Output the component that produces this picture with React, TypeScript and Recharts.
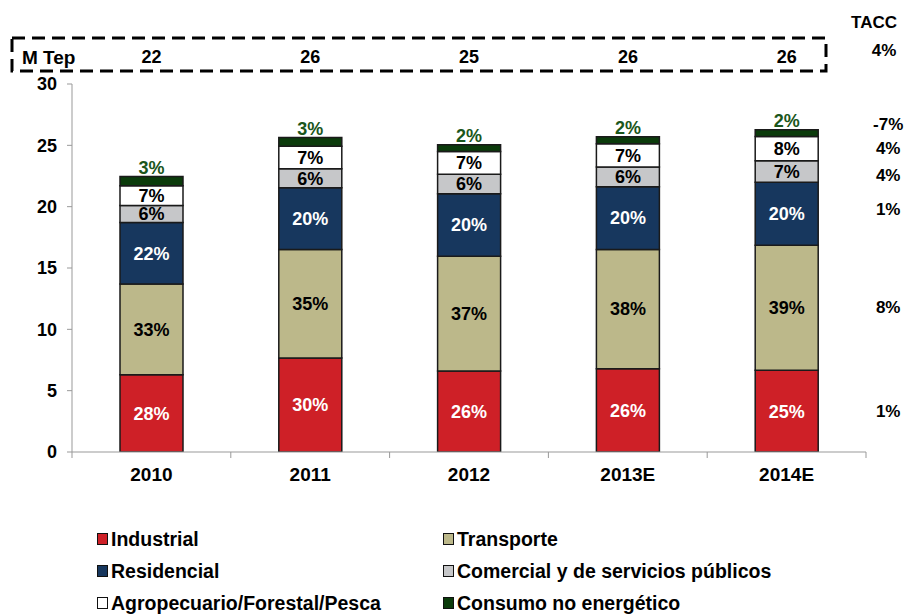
import { BarChart, Bar, XAxis, YAxis, LabelList } from 'recharts';

const categories = ['2010', '2011', '2012', '2013E', '2014E'];
const industrial = [6.3, 7.66, 6.6, 6.79, 6.66];
const transporte = [7.4, 8.85, 9.35, 9.72, 10.19];
const residencial = [5.0, 5.03, 5.1, 5.12, 5.14];
const comercial = [1.4, 1.55, 1.6, 1.6, 1.75];
const agropecuario = [1.6, 1.84, 1.85, 1.9, 1.98];
const consumo = [0.75, 0.7, 0.55, 0.57, 0.55];
const yTicks = [0, 5, 10, 15, 20, 25, 30];
const taccBySeries = ['1%', '8%', '1%', '4%', '4%', '-7%'];
const taccTotal = '4%';

const FONT = '"Liberation Sans", Arial, sans-serif';

const series = [
    { key: 'industrial', name: 'Industrial', values: industrial, fill: '#CE2027', text: '#FFFFFF', taccDy: 0 },
    { key: 'transporte', name: 'Transporte', values: transporte, fill: '#BCB88A', text: '#000000', taccDy: 0 },
    { key: 'residencial', name: 'Residencial', values: residencial, fill: '#17375E', text: '#FFFFFF', taccDy: -4 },
    { key: 'comercial', name: 'Comercial y de servicios públicos', values: comercial, fill: '#C6C7C9', text: '#000000', taccDy: 4 },
    { key: 'agropecuario', name: 'Agropecuario/Forestal/Pesca', values: agropecuario, fill: '#FFFFFF', text: '#000000', taccDy: 0 },
    { key: 'consumo', name: 'Consumo no energético', values: consumo, fill: '#0B3B0B', text: '#1B561B', taccDy: -9 },
];

// legend order: two columns, three rows
const legendOrder = ['industrial', 'transporte', 'residencial', 'comercial', 'agropecuario', 'consumo'];

const totals = categories.map((_, i) => series.reduce((s, ser) => s + ser.values[i], 0));

const data = categories.map((year, i) => {
    const row: Record<string, string | number> = { year, totalLabel: String(Math.round(totals[i])) };
    series.forEach((ser, si) => {
        row[ser.key] = ser.values[i];
        row[`${ser.key}Pct`] = `${Math.round((ser.values[i] / totals[i]) * 100)}%`;
        row[`${ser.key}Tacc`] = i === categories.length - 1 ? taccBySeries[si] : '';
    });
    return row;
});

const XTick = (props: any) => {
    const { x, y, payload, index } = props;
    const half = payload && payload.offset ? payload.offset : 79;
    return (
        <g>
            <line x1={x - half} x2={x - half} y1={y} y2={y + 6} stroke="#999" />
            {index === categories.length - 1 && (
                <line x1={x + half} x2={x + half} y1={y} y2={y + 6} stroke="#999" />
            )}
            <text x={x} y={y + 29} textAnchor="middle" fill="#000" fontSize={19} fontWeight="bold" fontFamily={FONT}>
                {payload.value}
            </text>
        </g>
    );
};

const makeTacc = (dy: number) => (props: any) => {
    const { value, viewBox } = props;
    if (!value || !viewBox) return null;
    const { x, y, width, height } = viewBox;
    return (
        <text x={x + width + 70} y={y + height / 2 + dy} textAnchor="middle" dominantBaseline="central"
            fill="#000" fontSize={17} fontWeight="bold" fontFamily={FONT}>
            {value}
        </text>
    );
};

const TotalLabel = (props: any) => {
    const { value, viewBox } = props;
    if (!viewBox) return null;
    const { x, width } = viewBox;
    return (
        <text x={x + width / 2} y={57} textAnchor="middle" dominantBaseline="central"
            fill="#000" fontSize={18} fontWeight="bold" fontFamily={FONT}>
            {value}
        </text>
    );
};

export default function App() {
    return (
        <div style={{ position: 'relative', width: 910, height: 616, fontFamily: FONT, background: '#fff' }}>
            <style>{'body{margin:0}'}</style>
            <BarChart
                width={910}
                height={616}
                data={data}
                margin={{ top: 84, right: 44, left: 12, bottom: 134 }}
            >
                <XAxis
                    dataKey="year"
                    height={30}
                    tickSize={0}
                    tickMargin={0}
                    tickLine={false}
                    axisLine={{ stroke: '#999' }}
                    tick={<XTick />}
                    interval={0}
                />
                <YAxis
                    domain={[0, 30]}
                    ticks={yTicks}
                    width={60}
                    tickSize={5}
                    tickMargin={10}
                    axisLine={{ stroke: '#999' }}
                    tickLine={{ stroke: '#999' }}
                    tick={{ fill: '#000', fontSize: 18, fontWeight: 'bold', fontFamily: FONT }}
                    allowDataOverflow
                />
                {series.map((ser) => (
                    <Bar
                        key={ser.key}
                        dataKey={ser.key}
                        name={ser.name}
                        stackId="a"
                        fill={ser.fill}
                        stroke="#1a1a1a"
                        strokeWidth={1.5}
                        barSize={63}
                        isAnimationActive={false}
                    >
                        <LabelList
                            dataKey={`${ser.key}Pct`}
                            position={ser.key === 'consumo' ? 'top' : 'center'}
                            offset={3}
                            fill={ser.text}
                            fontSize={18}
                            fontWeight="bold"
                            fontFamily={FONT}
                        />
                        <LabelList dataKey={`${ser.key}Tacc`} content={makeTacc(ser.taccDy)} />
                        {ser.key === 'consumo' && <LabelList dataKey="totalLabel" content={<TotalLabel />} />}
                    </Bar>
                ))}
            </BarChart>

            {/* dashed header box, TACC column header */}
            <svg width={910} height={616} style={{ position: 'absolute', left: 0, top: 0, pointerEvents: 'none' }}>
                <rect x={12} y={38} width={814} height={33} fill="none" stroke="#000" strokeWidth={3} strokeDasharray="13 7" />
                <text x={22} y={57} dominantBaseline="central" fill="#000" fontSize={19} fontWeight="bold" fontFamily={FONT}>M Tep</text>
                <text x={874} y={22} textAnchor="middle" dominantBaseline="central" fill="#000" fontSize={17} fontWeight="bold" fontFamily={FONT}>TACC</text>
                <text x={884} y={50} textAnchor="middle" dominantBaseline="central" fill="#000" fontSize={17} fontWeight="bold" fontFamily={FONT}>{taccTotal}</text>
            </svg>

            {/* Legend */}
            <div style={{ position: 'absolute', left: 97, top: 527, display: 'grid', gridTemplateColumns: '346px 370px', rowGap: 8 }}>
                {legendOrder.map((k) => {
                    const ser = series.find((s) => s.key === k)!;
                    return (
                        <div key={k} style={{ display: 'flex', alignItems: 'center', height: 24, lineHeight: '24px' }}>
                            <div style={{ width: 9, height: 10, background: ser.fill, border: '1.5px solid #111', marginRight: 3 }} />
                            <span style={{ fontSize: 19.5, fontWeight: 'bold', color: '#000' }}>{ser.name}</span>
                        </div>
                    );
                })}
            </div>
        </div>
    );
}
